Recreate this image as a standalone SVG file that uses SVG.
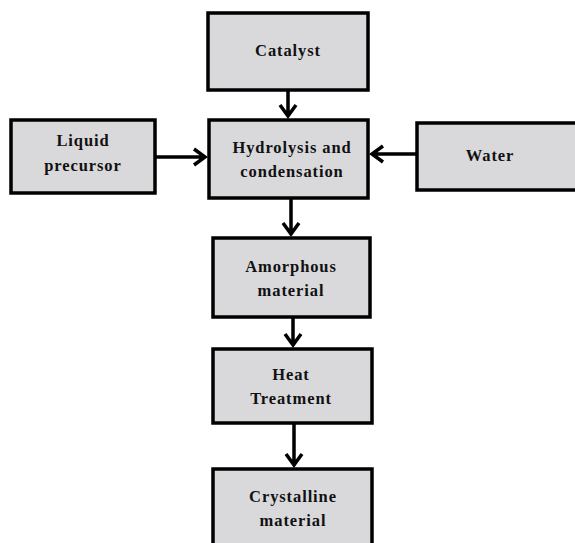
<svg xmlns="http://www.w3.org/2000/svg" width="575" height="543" viewBox="0 0 575 543">
<style>
.box{fill:#d9d9dc;stroke:#000;stroke-width:3.5}
.t{font-family:"Liberation Serif",serif;font-weight:bold;font-size:16.5px;letter-spacing:0.9px;fill:#111;text-anchor:middle}
.c{stroke:#000;stroke-width:3.5;fill:none}
</style>
<rect width="575" height="543" fill="#fff"/>
<g id="catalyst"><rect class="box" x="208" y="13" width="160" height="77"/><text class="t" x="288" y="56">Catalyst</text></g>
<g id="hydrolysis"><rect class="box" x="209" y="120" width="159" height="78"/><text class="t" x="292" y="153">Hydrolysis and</text><text class="t" x="292" y="177">condensation</text></g>
<g id="liquid"><rect class="box" x="11" y="120" width="144" height="73"/><text class="t" x="83" y="146">Liquid</text><text class="t" x="83" y="171">precursor</text></g>
<g id="water"><rect class="box" x="417" y="123" width="160" height="67"/><text class="t" x="490" y="161">Water</text></g>
<g id="amorphous"><rect class="box" x="213" y="238" width="157" height="79"/><text class="t" x="291" y="272">Amorphous</text><text class="t" x="291" y="296">material</text></g>
<g id="heat"><rect class="box" x="213" y="349" width="159" height="74"/><text class="t" x="291" y="380">Heat</text><text class="t" x="291" y="404">Treatment</text></g>
<g id="crystalline"><rect class="box" x="213" y="469" width="159" height="90"/><text class="t" x="293" y="502">Crystalline</text><text class="t" x="293" y="526">material</text></g>
<g id="connectors">
<path class="c" d="M288 90V116M280 105L288 116L296 105"/>
<path class="c" d="M155 157H205M194 149L205 157L194 165"/>
<path class="c" d="M417 154H372M383 146L372 154L383 162"/>
<path class="c" d="M291 198V234M283 223L291 234L299 223"/>
<path class="c" d="M293 317V345M285 334L293 345L301 334"/>
<path class="c" d="M294 423V465M286 454L294 465L302 454"/>
</g>
</svg>
